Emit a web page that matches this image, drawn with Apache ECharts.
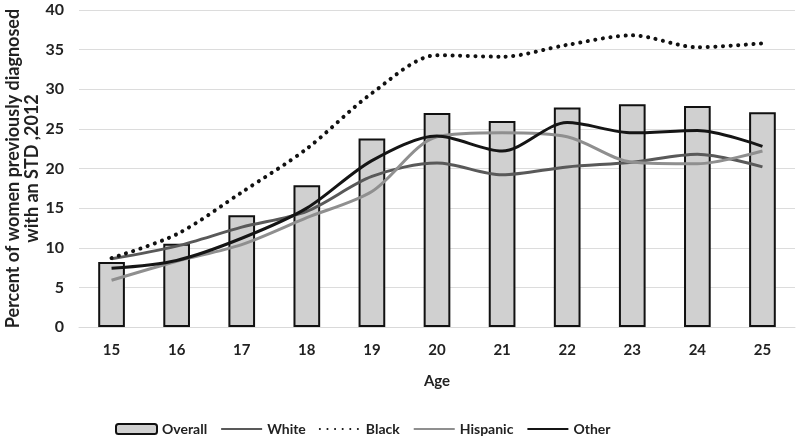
<!DOCTYPE html>
<html><head><meta charset="utf-8">
<script src="https://cdn.jsdelivr.net/npm/echarts@6/dist/echarts.min.js"></script>
<style>html,body{margin:0;padding:0;background:#fff}#c{width:800px;height:444px}</style>
</head><body><div id="c"></div>
<script>
const ages = ['15','16','17','18','19','20','21','22','23','24','25'];
const overall = [8.2,10.5,14.1,17.9,23.8,27.0,26.0,27.7,28.1,27.9,27.1];
const white = [8.6,10.2,12.6,14.6,19.0,20.7,19.2,20.2,20.8,21.8,20.2];
const black = [8.7,11.7,17.0,22.5,29.5,34.3,34.1,35.6,36.8,35.3,35.8];
const hispanic = [5.9,8.3,10.4,13.8,17.1,24.0,24.5,24.0,20.8,20.6,22.2];
const other = [7.4,8.4,11.2,15.0,21.0,24.1,22.2,25.8,24.5,24.8,22.8];
const yTicks = [0,40,5];
const yTitle = 'Percent of women previously diagnosed\nwith an STD ,2012';

const FONT = 'Lato';
const chart = echarts.init(document.getElementById('c'), null, {renderer:'canvas'});
const hideSym = {opacity:0};
chart.setOption({
  animation:false,
  textStyle:{fontFamily:FONT},
  grid:{left:79,right:5,top:10,bottom:117,outerBoundsMode:'none',containLabel:false},
  legend:{
    bottom:3, left:110, itemWidth:41, itemHeight:10, itemGap:13,
    textStyle:{fontFamily:FONT,fontWeight:'bold',fontSize:14,color:'#222'},
    data:[
      {name:'Overall'},
      {name:'White',itemStyle:hideSym},
      {name:'Black',itemStyle:hideSym},
      {name:'Hispanic',itemStyle:hideSym},
      {name:'Other',itemStyle:hideSym}
    ]
  },
  xAxis:{
    type:'category', data:ages,
    name:'Age', nameLocation:'middle', nameGap:47,
    nameTextStyle:{fontFamily:FONT,fontWeight:'bold',fontSize:15,color:'#222'},
    axisLine:{show:true,lineStyle:{color:'#d9d9d9',width:1}},
    axisTick:{show:false},
    axisLabel:{margin:16,fontFamily:FONT,fontWeight:'bold',fontSize:15,color:'#222'}
  },
  yAxis:{
    type:'value', min:yTicks[0], max:yTicks[1], interval:yTicks[2],
    name:yTitle,
    nameLocation:'middle', nameGap:37, nameRotate:90, nameMoveOverlap:false,
    nameTextStyle:{fontFamily:FONT,fontWeight:'bold',fontSize:18,color:'#222',lineHeight:19},
    axisLine:{show:false}, axisTick:{show:false},
    axisLabel:{margin:15,fontFamily:FONT,fontWeight:'bold',fontSize:16,color:'#222'},
    splitLine:{lineStyle:{color:'#dcdcdc',width:1}}
  },
  series:[
    {name:'Overall',type:'bar',data:overall,barWidth:'41%',
     itemStyle:{color:'#d0d0d0',borderColor:'#111',borderWidth:2}},
    {name:'White',type:'line',data:white,smooth:0.3,symbol:'none',
     lineStyle:{color:'#595959',width:3},itemStyle:{color:'#595959'}},
    {name:'Black',type:'line',data:black,smooth:0.3,symbol:'none',
     lineStyle:{color:'#111',width:4,type:[0.1,7.5],cap:'round'},itemStyle:{color:'#111'}},
    {name:'Hispanic',type:'line',data:hispanic,smooth:0.3,symbol:'none',
     lineStyle:{color:'#8f8f8f',width:3},itemStyle:{color:'#8f8f8f'}},
    {name:'Other',type:'line',data:other,smooth:0.3,symbol:'none',
     lineStyle:{color:'#151515',width:3},itemStyle:{color:'#151515'}}
  ]
});
</script></body></html>
